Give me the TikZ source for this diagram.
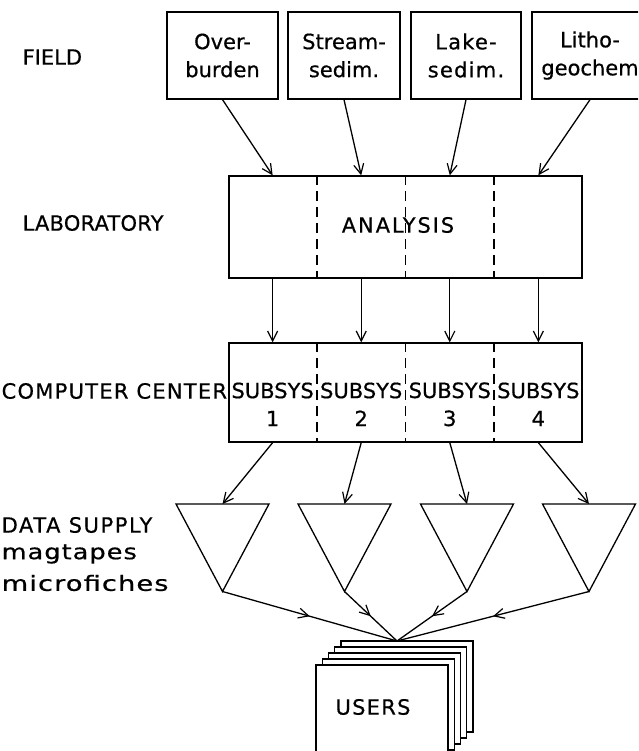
\documentclass[tikz,border=0pt]{standalone}
\usepackage{fontspec}
\setmainfont[FakeBold=0.6]{DejaVu Sans}
\usetikzlibrary{arrows.meta,calc,decorations.markings}
\newcommand{\lettr}{\fontsize{21}{28}\selectfont}
\begin{document}
\begin{tikzpicture}[x=1pt,y=-1pt,line width=1.3pt,
  barb/.tip={Straight Barb[length=10pt,width=10pt,line width=1.2pt]},
  tip/.style={-barb},
  fbox/.style={draw, minimum height=87pt, inner sep=0pt, align=center, font=\lettr},
  bigbox/.style={draw, minimum width=353pt, inner sep=0pt},
  divider/.style={dash pattern=on 10pt off 6pt},
  lbl/.style={anchor=west, inner sep=0pt, font=\lettr},
  subsys/.style={inner sep=0pt, align=center, font=\lettr},
  midarrow/.style={postaction={decorate}, decoration={markings, mark=at position 0.5 with {\arrow{barb}}}},
  page/.style={draw, fill=white}]
\useasboundingbox (0,0) rectangle (638,751);
\clip (0,0) rectangle (638,751);

% left labels
\node[lbl] (lf) at (22,57) {FIELD};
\node[lbl] (ll) at (22,223) {\addfontfeatures{LetterSpace=1}LABORATORY};
\node[lbl] (lc) at (1,391) {\addfontfeatures{LetterSpace=6}COMPUTER CENTER};
\node[lbl] (ld) at (1,525) {\addfontfeatures{LetterSpace=7.5}DATA SUPPLY};
\node[lbl] (lm) at (1,554) {\scalebox{1.22}[1]{\addfontfeatures{LetterSpace=4}magtapes}};
\node[lbl] (lmi) at (1,583) {\scalebox{1.3}[1]{\addfontfeatures{LetterSpace=4}microfiches}};

% field boxes
\node[fbox, minimum width=111pt] (f1) at (222.5,55.5) {Over-\\burden};
\node[fbox, minimum width=112pt] (f2) at (344,55.5) {Stream-\\sedim.};
\node[fbox, minimum width=110pt] (f3) at (466,55.5) {\addfontfeatures{LetterSpace=6}Lake-\\\addfontfeatures{LetterSpace=6}sedim.};
\node[fbox, minimum width=116pt] (f4) at (590,55.5) {Litho-\\geochem};

% analysis box
\node[bigbox, minimum height=102pt] (an) at (405.5,227) {};
\node[inner sep=0pt, font=\lettr] (antext) at (398,225) {\addfontfeatures{LetterSpace=9}ANALYSIS};
\foreach \f in {0.25,0.5,0.75}
  \draw[divider] ($(an.north west)!\f!(an.north east)$) -- ($(an.south west)!\f!(an.south east)$);

% computer center box
\node[bigbox, minimum height=99pt] (cc) at (405.5,392.5) {};
\foreach \f in {0.25,0.5,0.75}
  \draw[divider] ($(cc.north west)!\f!(cc.north east)$) -- ($(cc.south west)!\f!(cc.south east)$);
\foreach \i/\f in {1/0.125,2/0.375,3/0.625,4/0.875} {
  \coordinate (at\i) at ($(an.north west)!\f!(an.north east)$);
  \coordinate (ab\i) at ($(an.south west)!\f!(an.south east)$);
  \coordinate (ct\i) at ($(cc.north west)!\f!(cc.north east)$);
  \coordinate (cb\i) at ($(cc.south west)!\f!(cc.south east)$);
}
\node[subsys] (ss1) at ($(ct1)+(0,62)$) {SUBSYS\\1};
\node[subsys] (ss2) at ($(ct2)+(0,62)$) {SUBSYS\\2};
\node[subsys] (ss3) at ($(ct3)+(0,62)$) {SUBSYS\\3};
\node[subsys] (ss4) at ($(ct4)+(0,62)$) {SUBSYS\\4};

% field -> analysis
\foreach \i in {1,2,3,4}
  \draw[tip] (f\i.south) -- (at\i);
% analysis -> computer
\foreach \i in {1,2,3,4}
  \draw[tip] (ab\i) -- (ct\i);

% data supply triangles
\foreach \i/\x in {1/222.5,2/344.5,3/467,4/589} {
  \coordinate (tt\i) at (\x,504);
  \coordinate (tv\i) at (\x,591.5);
  \draw[line join=miter] ($(tt\i)+(-46.5,0)$) -- ($(tt\i)+(46.5,0)$) -- (tv\i) -- cycle;
  \draw[tip] (cb\i) -- (tt\i);
}

% users pages
\foreach \k in {4,3,2,1}
  \draw[page] ($(316,665)+(\k*6.25,-\k*6)$) rectangle ++(132,91);
\node[page, minimum width=132pt, minimum height=91pt, inner sep=0pt] (users) at (382,710.5) {};
\node[inner sep=0pt, font=\lettr] (usertext) at (373,707) {\addfontfeatures{LetterSpace=6}USERS};
\coordinate (u) at (397,641);

\foreach \i in {1,2,3,4}
  \draw[midarrow] (tv\i) -- (u);
\end{tikzpicture}
\end{document}
